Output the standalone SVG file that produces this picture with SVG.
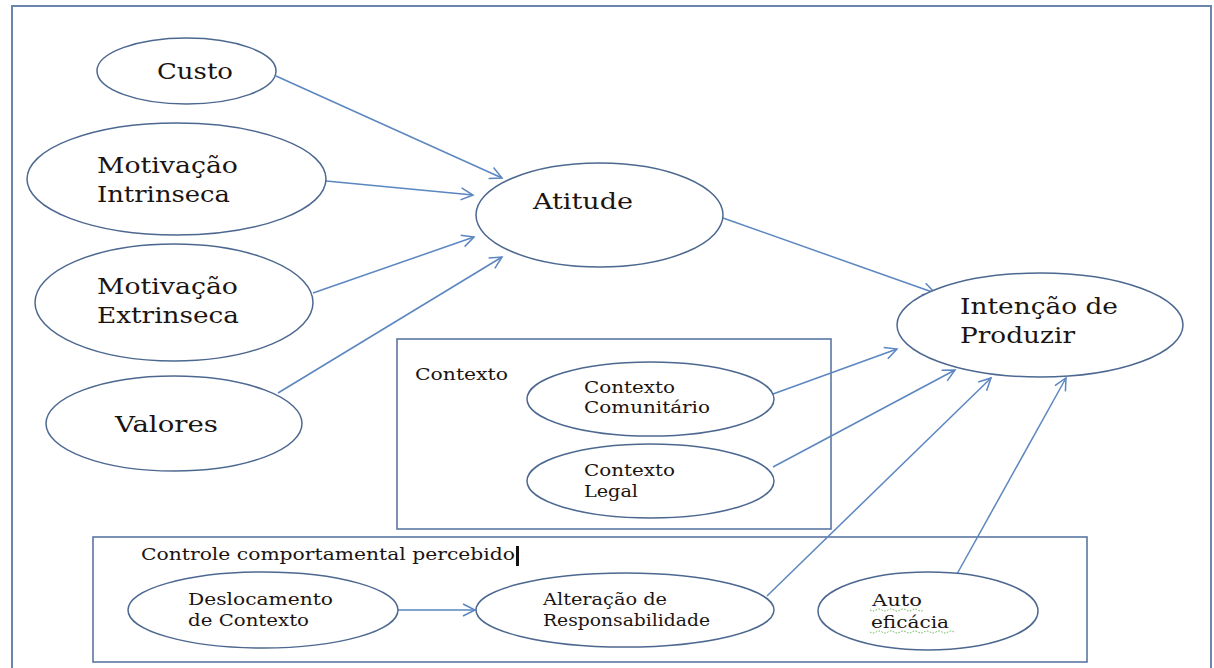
<svg xmlns="http://www.w3.org/2000/svg" width="1214" height="668" viewBox="0 0 1214 668">
<defs>
<style>
.frame{fill:none;stroke:#6a86ad;stroke-width:2}
.box{fill:none;stroke:#5a77a3;stroke-width:1.6}
.node{fill:#ffffff;stroke:#4d6890;stroke-width:1.5}
.edge{fill:none;stroke:#5b86c0;stroke-width:1.5}
.big{font-family:"DejaVu Serif","Liberation Serif",serif;font-size:23px;fill:#1c1410}
.mid{font-family:"DejaVu Serif","Liberation Serif",serif;font-size:17px;fill:#1c1410}
.sm{font-family:"DejaVu Serif","Liberation Serif",serif;font-size:16px;fill:#1c1410}
.squig{fill:none;stroke:#5cb04a;stroke-width:1;stroke-dasharray:1.5 1.5}
</style>
<marker id="arr" markerUnits="userSpaceOnUse" markerWidth="16" markerHeight="16" refX="13" refY="7" orient="auto">
<path d="M1,1 L13,7 L1,13" fill="none" stroke="#5b86c0" stroke-width="1.5"/>
</marker>
</defs>
<rect width="1214" height="668" fill="#ffffff"/>
<rect class="frame" x="12" y="6" width="1199" height="700"/>

<g id="contexto-box">
<rect class="box" x="397" y="339" width="434" height="190"/>
<text class="sm" x="415" y="380" textLength="93" lengthAdjust="spacingAndGlyphs">Contexto</text>
</g>
<g id="controle-box">
<rect class="box" x="93" y="537" width="994" height="125"/>
<text class="mid" x="141" y="560" textLength="374" lengthAdjust="spacingAndGlyphs">Controle comportamental  percebido</text>
<rect x="516" y="546" width="3" height="20" fill="#111"/>
</g>

<g id="connectors">
<line class="edge" x1="276" y1="76" x2="502" y2="178" marker-end="url(#arr)"/>
<line class="edge" x1="326" y1="181" x2="473" y2="195" marker-end="url(#arr)"/>
<line class="edge" x1="313" y1="293" x2="474" y2="237" marker-end="url(#arr)"/>
<line class="edge" x1="278" y1="393" x2="502" y2="257" marker-end="url(#arr)"/>
<line class="edge" x1="723" y1="218" x2="935" y2="293" marker-end="url(#arr)"/>
<line class="edge" x1="773" y1="394" x2="897" y2="349" marker-end="url(#arr)"/>
<line class="edge" x1="773" y1="467" x2="955" y2="370" marker-end="url(#arr)"/>
<line class="edge" x1="767" y1="596" x2="991" y2="378" marker-end="url(#arr)"/>
<line class="edge" x1="957" y1="574" x2="1066" y2="378" marker-end="url(#arr)"/>
<line class="edge" x1="398" y1="610" x2="475" y2="610" marker-end="url(#arr)"/>
</g>

<g id="custo">
<ellipse class="node" cx="186.5" cy="71" rx="89.5" ry="33"/>
<text class="big" x="157" y="79" textLength="76" lengthAdjust="spacingAndGlyphs">Custo</text>
</g>
<g id="motivacao-intrinseca">
<ellipse class="node" cx="176.5" cy="179" rx="149.5" ry="56"/>
<text class="big" x="97" y="173" textLength="141" lengthAdjust="spacingAndGlyphs">Motivação</text>
<text class="big" x="97" y="202" textLength="133" lengthAdjust="spacingAndGlyphs">Intrinseca</text>
</g>
<g id="motivacao-extrinseca">
<ellipse class="node" cx="174" cy="302.5" rx="139" ry="58.5"/>
<text class="big" x="97" y="294" textLength="141" lengthAdjust="spacingAndGlyphs">Motivação</text>
<text class="big" x="97" y="323" textLength="142" lengthAdjust="spacingAndGlyphs">Extrinseca</text>
</g>
<g id="valores">
<ellipse class="node" cx="174" cy="423.5" rx="128" ry="47.5"/>
<text class="big" x="115" y="432" textLength="103" lengthAdjust="spacingAndGlyphs">Valores</text>
</g>
<g id="atitude">
<ellipse class="node" cx="599.5" cy="215" rx="123.5" ry="52"/>
<text class="big" x="533" y="209" textLength="100" lengthAdjust="spacingAndGlyphs">Atitude</text>
</g>
<g id="intencao">
<ellipse class="node" cx="1040" cy="325" rx="143" ry="52"/>
<text class="big" x="960" y="314" textLength="158" lengthAdjust="spacingAndGlyphs">Intenção de</text>
<text class="big" x="960" y="343" textLength="115" lengthAdjust="spacingAndGlyphs">Produzir</text>
</g>
<g id="contexto-comunitario">
<ellipse class="node" cx="650.5" cy="399" rx="123.5" ry="37"/>
<text class="sm" x="584" y="393" textLength="91" lengthAdjust="spacingAndGlyphs">Contexto</text>
<text class="sm" x="584" y="413" textLength="126" lengthAdjust="spacingAndGlyphs">Comunitário</text>
</g>
<g id="contexto-legal">
<ellipse class="node" cx="650.5" cy="481" rx="123.5" ry="37"/>
<text class="sm" x="584" y="476" textLength="91" lengthAdjust="spacingAndGlyphs">Contexto</text>
<text class="sm" x="584" y="497" textLength="54" lengthAdjust="spacingAndGlyphs">Legal</text>
</g>
<g id="deslocamento">
<ellipse class="node" cx="263" cy="610" rx="135" ry="38"/>
<text class="sm" x="188" y="605" textLength="145" lengthAdjust="spacingAndGlyphs">Deslocamento</text>
<text class="sm" x="188" y="626" textLength="121" lengthAdjust="spacingAndGlyphs">de Contexto</text>
</g>
<g id="alteracao">
<ellipse class="node" cx="625" cy="610" rx="149" ry="37"/>
<text class="sm" x="543" y="605" textLength="124" lengthAdjust="spacingAndGlyphs">Alteração de</text>
<text class="sm" x="543" y="626" textLength="167" lengthAdjust="spacingAndGlyphs">Responsabilidade</text>
</g>
<g id="auto-eficacia">
<ellipse class="node" cx="928" cy="611" rx="110" ry="39"/>
<text class="sm" x="872" y="606" textLength="50" lengthAdjust="spacingAndGlyphs">Auto</text>
<text class="sm" x="871" y="628" textLength="78" lengthAdjust="spacingAndGlyphs">eficácia</text>
<path class="squig" d="M870,610 q3,2 6,0 t6,0 t6,0 t6,0 t6,0 t6,0 t6,0 t6,0 t6,0"/>
<path class="squig" d="M870,632 q3,2 6,0 t6,0 t6,0 t6,0 t6,0 t6,0 t6,0 t6,0 t6,0 t6,0 t6,0 t6,0 t6,0 t6,0"/>
</g>
</svg>
